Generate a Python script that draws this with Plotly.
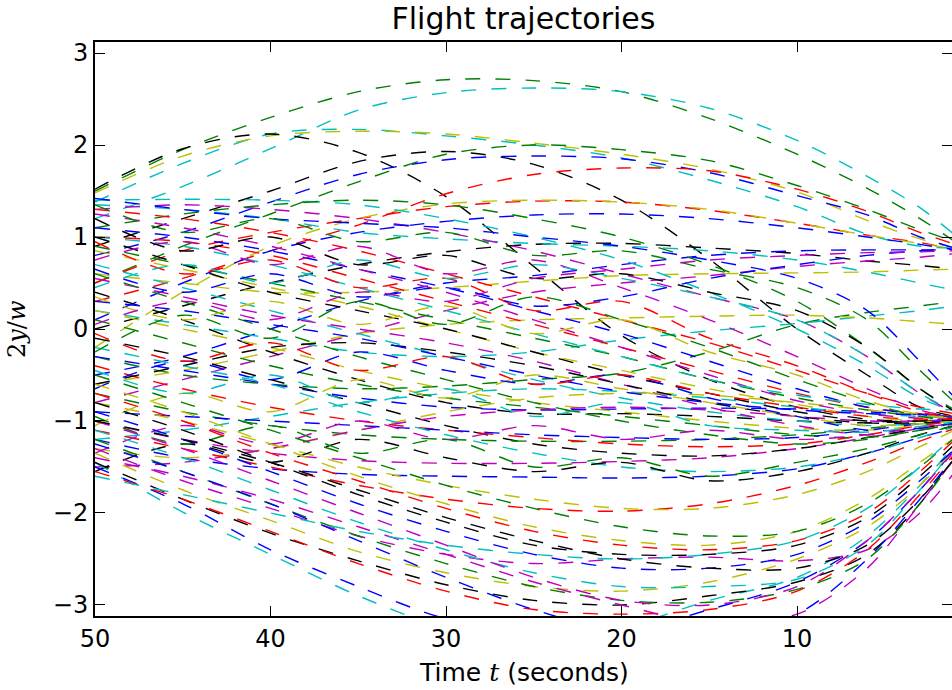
import plotly.graph_objects as go

# ---------------- data ----------------
times = [50, 45, 40, 35, 30, 25, 20, 15, 10, 6, 3, 1]

upper_values = [
    [1.50, 1.95, 2.30, 2.58, 2.71, 2.70, 2.58, 2.29, 1.90, 1.53, 1.20, 0.95],
    [1.20, 1.55, 1.96, 2.38, 2.57, 2.62, 2.58, 2.40, 2.05, 1.66, 1.32, 1.02],
    [1.38, 1.80, 2.12, 2.17, 2.10, 2.00, 1.86, 1.62, 1.33, 1.03, 0.90, 0.88],
    [1.48, 1.88, 2.10, 2.15, 2.12, 2.02, 1.90, 1.74, 1.49, 1.18, 0.98, 0.88],
    [1.52, 1.96, 2.12, 1.92, 1.44, 0.68, -0.07, -0.55, -0.85, -0.98, -1.00, -0.97],
    [0.90, 1.20, 1.50, 1.82, 1.93, 1.79, 1.40, 0.76, 0.00, -0.50, -0.85, -0.95],
    [0.80, 1.05, 1.38, 1.68, 1.84, 1.88, 1.85, 1.70, 1.45, 1.24, 1.00, 0.88],
    [0.50, 0.90, 1.25, 1.60, 1.90, 2.00, 1.95, 1.83, 1.56, 1.30, 1.08, 0.95],
    [0.30, 0.55, 0.85, 1.13, 1.47, 1.68, 1.75, 1.72, 1.52, 1.28, 1.05, 0.92],
    [0.50, 0.85, 1.05, 1.20, 1.33, 1.39, 1.38, 1.29, 1.15, 1.02, 0.94, 0.86],
    [-0.20, 0.40, 0.90, 1.20, 1.36, 1.40, 1.38, 1.30, 1.15, 1.02, 0.93, 0.87],
    [0.10, 0.50, 0.85, 1.05, 1.17, 1.24, 1.25, 1.20, 1.10, 1.00, 0.92, 0.86],
    [0.00, 0.25, 0.50, 0.70, 0.84, 0.92, 0.93, 0.88, 0.82, 0.74, 0.69, 0.65],
    [-0.50, -0.30, 0.00, 0.30, 0.50, 0.58, 0.70, 0.80, 0.85, 0.86, 0.86, 0.86],
    [-0.80, -0.55, -0.30, -0.05, 0.20, 0.40, 0.50, 0.58, 0.68, 0.74, 0.78, 0.82],
    [0.60, 0.50, 0.40, 0.40, 0.45, 0.52, 0.58, 0.60, 0.61, 0.62, 0.64, 0.65],
    [1.35, 1.30, 1.20, 1.05, 0.98, 0.93, 0.90, 0.85, 0.75, 0.62, 0.50, 0.42],
    [-0.30, -0.50, -0.60, -0.65, -0.62, -0.55, -0.48, -0.25, 0.05, 0.18, 0.25, 0.30],
    [0.20, 0.05, -0.10, -0.25, -0.30, -0.25, -0.12, -0.02, 0.06, 0.14, 0.20, 0.25],
    [-0.60, -0.45, -0.25, -0.05, 0.05, 0.10, 0.12, 0.14, 0.15, 0.12, 0.08, 0.05],
    [1.40, 1.41, 1.40, 1.35, 1.20, 1.00, 0.75, 0.40, 0.00, -0.40, -0.75, -0.90],
    [1.30, 1.35, 1.30, 1.20, 1.05, 0.85, 0.60, 0.35, 0.10, -0.30, -0.70, -0.92],
    [1.10, 1.25, 1.35, 1.40, 1.35, 1.20, 1.00, 0.70, 0.30, -0.20, -0.65, -0.88],
    [1.42, 1.30, 1.20, 1.15, 1.10, 1.00, 0.90, 0.75, 0.55, 0.20, -0.35, -0.75],
]
upper_colors = ["g", "c", "c", "y", "k", "k", "b", "g", "r", "r", "y", "b",
                "k", "b", "m", "y", "c", "g", "c", "y", "c", "m", "g", "b"]

middle_values = [
    [-0.30, -0.45, -0.60, -0.75, -0.85, -0.88, -0.87, -0.86, -0.87, -0.90, -0.93, -0.95],
    [0.40, 0.10, -0.25, -0.55, -0.80, -0.92, -0.92, -0.95, -1.00, -1.02, -1.00, -0.98],
    [-1.00, -1.20, -1.35, -1.43, -1.46, -1.46, -1.44, -1.40, -1.30, -1.18, -1.08, -1.02],
    [-1.20, -1.40, -1.52, -1.58, -1.60, -1.61, -1.62, -1.60, -1.52, -1.35, -1.18, -1.08],
    [0.90, 0.70, 0.50, 0.30, 0.10, -0.10, -0.30, -0.55, -0.75, -0.88, -0.95, -0.97],
    [1.00, 0.95, 0.80, 0.55, 0.30, 0.05, -0.20, -0.45, -0.70, -0.85, -0.92, -0.95],
    [0.70, 0.45, 0.20, -0.05, -0.30, -0.55, -0.75, -0.90, -1.00, -1.05, -1.03, -1.00],
    [0.20, 0.00, -0.20, -0.45, -0.65, -0.80, -0.90, -1.00, -1.08, -1.10, -1.05, -1.00],
    [0.55, 0.35, 0.15, 0.00, -0.15, -0.35, -0.60, -0.85, -1.05, -1.15, -1.10, -1.03],
    [-0.10, -0.30, -0.55, -0.80, -1.05, -1.25, -1.35, -1.38, -1.30, -1.18, -1.08, -1.02],
    [1.10, 1.00, 0.85, 0.65, 0.45, 0.20, -0.05, -0.35, -0.65, -0.85, -0.93, -0.96],
    [-0.70, -0.90, -1.05, -1.15, -1.20, -1.22, -1.22, -1.20, -1.15, -1.08, -1.02, -0.98],
    [-0.40, -0.65, -0.85, -1.00, -1.10, -1.18, -1.25, -1.28, -1.25, -1.15, -1.05, -1.00],
    [-1.20, -1.10, -0.95, -0.80, -0.70, -0.65, -0.68, -0.75, -0.85, -0.92, -0.95, -0.97],
    [-1.30, -1.40, -1.30, -1.10, -0.90, -0.75, -0.70, -0.72, -0.80, -0.88, -0.93, -0.96],
    [1.25, 1.10, 0.90, 0.65, 0.40, 0.10, -0.20, -0.50, -0.78, -0.92, -0.97, -0.98],
    [-0.60, -0.40, -0.20, -0.15, -0.25, -0.40, -0.60, -0.80, -0.95, -1.02, -1.02, -1.00],
    [0.10, -0.15, -0.40, -0.60, -0.75, -0.85, -0.95, -1.05, -1.15, -1.18, -1.10, -1.03],
    [1.30, 1.20, 1.05, 0.85, 0.60, 0.35, 0.10, -0.15, -0.45, -0.70, -0.85, -0.92],
    [-0.90, -0.95, -1.00, -1.05, -1.10, -1.15, -1.18, -1.20, -1.18, -1.10, -1.03, -0.99],
    [0.85, 0.65, 0.45, 0.25, 0.00, -0.25, -0.45, -0.65, -0.82, -0.95, -1.00, -1.00],
    [-0.20, -0.40, -0.60, -0.90, -1.15, -1.35, -1.50, -1.55, -1.50, -1.35, -1.18, -1.06],
    [-1.50, -1.45, -1.30, -1.10, -0.95, -0.88, -0.85, -0.88, -0.95, -1.00, -1.00, -0.98],
    [1.00, 0.70, 0.40, 0.20, 0.00, -0.25, -0.50, -0.70, -0.90, -1.00, -1.00, -0.98],
    [0.60, 0.30, 0.00, -0.30, -0.55, -0.80, -1.00, -1.15, -1.25, -1.20, -1.10, -1.02],
    [-1.10, -1.30, -1.50, -1.70, -1.85, -1.95, -1.98, -1.90, -1.70, -1.45, -1.22, -1.08],
    [0.30, 0.20, 0.05, -0.10, -0.30, -0.50, -0.68, -0.80, -0.88, -0.92, -0.93, -0.93],
    [-0.80, -1.00, -1.25, -1.50, -1.70, -1.85, -1.95, -1.95, -1.80, -1.55, -1.28, -1.10],
    [1.00, 0.90, 0.70, 0.45, 0.20, -0.05, -0.30, -0.55, -0.72, -0.82, -0.87, -0.88],
]
middle_colors = ["b", "k", "m", "b", "g", "r", "c", "y", "m", "k", "b", "g", "r",
                 "c", "y", "m", "k", "g", "r", "b", "y", "c", "m", "k", "g", "r",
                 "b", "y", "c"]

wiggly_values = [
    [0.95, 0.60, 0.75, 0.45, 0.55, 0.20, 0.30, -0.10, -0.40, -0.70, -0.90, -0.97],
    [-0.25, 0.15, -0.10, 0.30, 0.05, 0.35, 0.10, -0.20, -0.55, -0.80, -0.95, -1.00],
    [0.75, 0.95, 0.70, 0.90, 0.60, 0.75, 0.45, 0.10, -0.30, -0.65, -0.88, -0.96],
    [-1.05, -0.70, -0.90, -0.55, -0.75, -0.50, -0.65, -0.80, -0.95, -1.05, -1.03, -1.00],
    [1.20, 0.85, 1.00, 0.70, 0.80, 0.55, 0.60, 0.40, 0.20, -0.20, -0.65, -0.90],
    [-0.65, -0.35, -0.55, -0.25, -0.45, -0.60, -0.50, -0.75, -0.95, -1.10, -1.08, -1.02],
    [0.45, 0.70, 0.50, 0.75, 0.55, 0.70, 0.55, 0.35, 0.10, -0.30, -0.70, -0.90],
    [-1.35, -1.05, -1.25, -1.00, -1.20, -1.05, -1.20, -1.10, -1.20, -1.15, -1.07, -1.01],
    [1.35, 1.05, 1.20, 0.95, 1.05, 0.80, 0.85, 0.65, 0.45, 0.10, -0.45, -0.80],
    [-0.05, -0.35, -0.15, -0.45, -0.30, -0.60, -0.50, -0.70, -0.85, -0.95, -0.98, -0.98],
    [-1.55, -1.25, -1.45, -1.20, -1.40, -1.55, -1.45, -1.65, -1.55, -1.35, -1.15, -1.05],
    [0.35, 0.10, 0.30, 0.05, 0.25, -0.05, 0.10, -0.25, -0.50, -0.78, -0.93, -0.97],
    [0.65, 0.40, 0.60, 0.35, 0.45, 0.25, 0.35, 0.55, 0.70, 0.80, 0.85, 0.87],
    [-0.45, -0.70, -0.50, -0.80, -0.65, -0.95, -0.80, -1.05, -1.10, -1.12, -1.06, -1.01],
    [0.05, 0.30, 0.10, 0.40, 0.30, 0.55, 0.65, 0.75, 0.80, 0.83, 0.84, 0.85],
    [-0.95, -1.25, -1.05, -1.35, -1.20, -1.50, -1.40, -1.60, -1.45, -1.30, -1.15, -1.05],
]
wiggly_colors = ["r", "g", "m", "y", "k", "b", "c", "m", "g", "r", "k", "y",
                 "b", "c", "m", "g"]

lower_values = [
    [-1.45, -1.99, -2.45, -2.90, -3.25, -3.40, -3.25, -2.95, -2.70, -2.25, -1.70, -1.25],
    [-1.50, -1.90, -2.40, -2.80, -3.15, -3.30, -3.30, -3.05, -2.75, -2.30, -1.75, -1.30],
    [-1.45, -1.85, -2.22, -2.52, -2.78, -2.95, -3.00, -2.90, -2.75, -2.45, -1.90, -1.35],
    [-1.35, -1.75, -2.08, -2.42, -2.65, -2.80, -2.85, -2.75, -2.50, -2.15, -1.70, -1.30],
    [-1.30, -1.65, -1.95, -2.25, -2.45, -2.55, -2.50, -2.48, -2.52, -2.40, -2.00, -1.55],
    [-1.55, -1.85, -2.20, -2.55, -2.85, -3.05, -3.10, -3.05, -2.85, -2.40, -1.80, -1.35],
    [-1.20, -1.55, -1.90, -2.25, -2.55, -2.80, -2.95, -2.97, -2.83, -2.50, -1.90, -1.40],
    [-1.10, -1.40, -1.75, -2.10, -2.40, -2.65, -2.80, -2.80, -2.72, -2.35, -1.75, -1.30],
    [-1.00, -1.30, -1.65, -2.00, -2.35, -2.70, -2.95, -3.00, -2.80, -2.30, -1.75, -1.32],
    [-0.90, -1.20, -1.55, -1.90, -2.20, -2.45, -2.60, -2.60, -2.45, -2.10, -1.65, -1.30],
    [-0.80, -1.10, -1.45, -1.80, -2.10, -2.35, -2.45, -2.45, -2.35, -2.05, -1.60, -1.25],
    [-0.70, -1.00, -1.35, -1.65, -1.95, -2.20, -2.35, -2.40, -2.30, -2.00, -1.55, -1.20],
    [-0.60, -0.90, -1.25, -1.60, -1.90, -2.15, -2.30, -2.35, -2.20, -1.85, -1.45, -1.18],
    [-1.40, -1.60, -1.85, -2.15, -2.45, -2.75, -3.00, -3.20, -3.10, -2.60, -1.90, -1.40],
    [-0.50, -0.80, -1.10, -1.40, -1.70, -1.95, -2.15, -2.25, -2.20, -1.90, -1.50, -1.18],
    [-1.60, -1.80, -2.00, -2.20, -2.35, -2.45, -2.50, -2.45, -2.30, -1.95, -1.50, -1.15],
    [-1.25, -1.55, -1.90, -2.30, -2.70, -3.05, -3.30, -3.35, -3.10, -2.50, -1.85, -1.38],
    [-1.00, -1.20, -1.45, -1.75, -2.05, -2.30, -2.50, -2.60, -2.60, -2.35, -1.85, -1.40],
]
lower_colors = ["c", "b", "k", "y", "m", "r", "g", "c", "m", "b", "k", "r",
                "y", "m", "g", "c", "b", "k"]

x_ticks = [50, 40, 30, 20, 10]
y_ticks = [-3, -2, -1, 0, 1, 2, 3]

# ---------------- style ----------------
palette = {"b": "#0000ff", "g": "#008000", "r": "#ff0000", "c": "#00bfbf",
           "m": "#bf00bf", "y": "#bfbf00", "k": "#000000"}

fig = go.Figure()
groups = [(upper_values, upper_colors), (middle_values, middle_colors),
          (wiggly_values, wiggly_colors), (lower_values, lower_colors)]
for vals, cols in groups:
    for yv, c in zip(vals, cols):
        fig.add_trace(go.Scatter(
            x=times, y=yv, mode="lines",
            line=dict(color=palette[c], width=1.4, dash="15px,15px",
                      shape="spline", smoothing=0.9),
            showlegend=False, hoverinfo="skip"))

font_main = "DejaVu Sans, Bitstream Vera Sans, sans-serif"
serif = "DejaVu Serif, serif"

fig.update_layout(
    width=952, height=690,
    margin=dict(l=95, r=0, t=42, b=74, autoexpand=False),
    paper_bgcolor="white", plot_bgcolor="white",
    font=dict(family=font_main, size=24, color="black"),
    title=dict(text="Flight trajectories", x=523.5 / 952, xanchor="center",
               y=1 - 18 / 690, yanchor="middle", yref="container",
               font=dict(size=30, family=font_main, color="black")),
    showlegend=False,
    annotations=[
        dict(text="Time <span style='font-family:DejaVu Serif'><i>t</i></span> (seconds)",
             xref="paper", yref="paper", x=0.5, y=-(672 + 0 - 616) / 574,
             xanchor="center", yanchor="middle", showarrow=False,
             font=dict(size=25, family=font_main, color="black")),
        dict(text="2<i>y</i>/<i>w</i>",
             xref="paper", yref="paper", x=(17 - 95) / 857, y=0.5,
             xanchor="center", yanchor="middle", showarrow=False, textangle=-90,
             font=dict(size=24, family=serif, color="black")),
    ],
)
fig.update_xaxes(
    range=[50, 1.17], tickvals=x_ticks, ticktext=[str(v) for v in x_ticks],
    ticks="inside", ticklen=10, tickwidth=1.2, tickcolor="black",
    showline=True, linecolor="black", linewidth=2, mirror="allticks",
    showgrid=False, zeroline=False, automargin=False,
    tickfont=dict(size=24, family=font_main),
)
fig.update_yaxes(
    range=[-3.12, 3.12], tickvals=y_ticks,
    ticks="inside", ticklen=10, tickwidth=1.2, tickcolor="black",
    showline=True, linecolor="black", linewidth=2, mirror="allticks",
    showgrid=False, zeroline=False, automargin=False,
    tickfont=dict(size=24, family=font_main),
)

fig.write_html(
    "out.html",
    config={"displayModeBar": False},
    post_script="document.body.style.margin='0px';document.body.style.overflow='hidden';",
)
